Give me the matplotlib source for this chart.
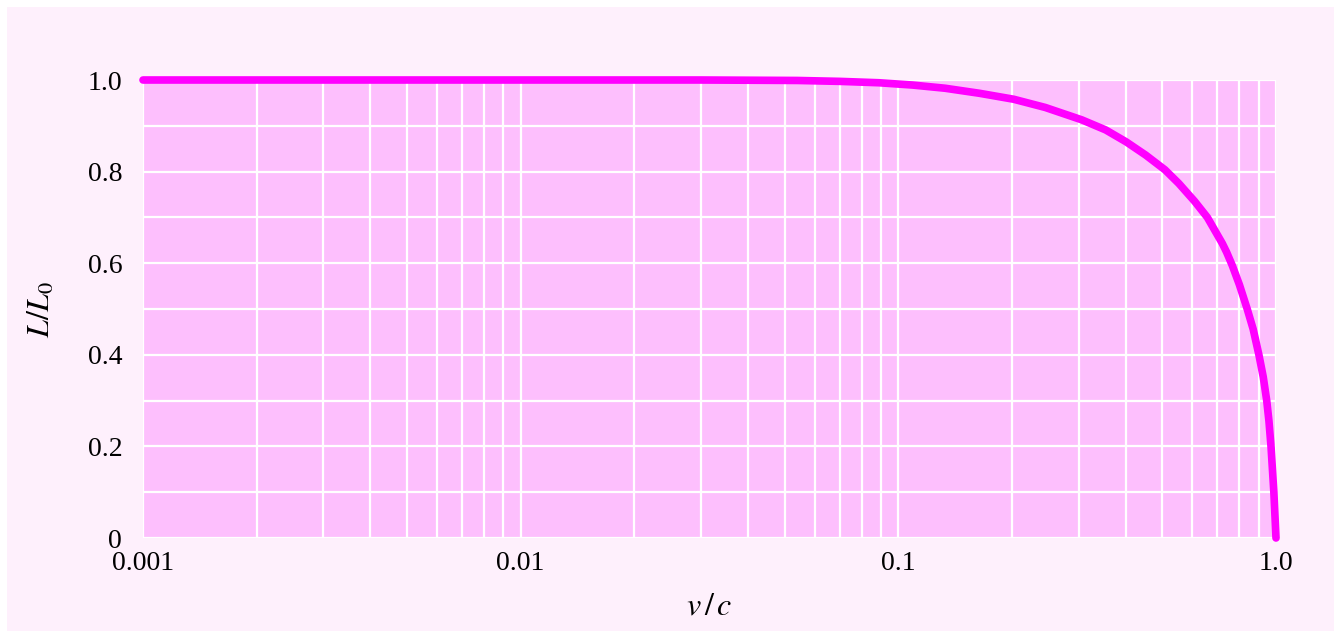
import matplotlib.pyplot as plt
from matplotlib.patches import Rectangle
from matplotlib.ticker import FixedLocator, NullFormatter

# v/c values read along the curve, and L/L0 read at each of them
speed = [0.001, 0.01, 0.03, 0.054, 0.07, 0.0888, 0.109, 0.133, 0.164, 0.202,
         0.245, 0.306, 0.354, 0.401, 0.452, 0.508, 0.553, 0.609, 0.658, 0.721,
         0.74, 0.766, 0.80, 0.839, 0.87, 0.901, 0.925, 0.945, 0.958, 0.970,
         0.987, 1.0]
length = [1.0, 1.0, 1.0, 0.999, 0.997, 0.994, 0.989, 0.982, 0.971, 0.958,
          0.940, 0.913, 0.891, 0.865, 0.836, 0.804, 0.774, 0.735, 0.7, 0.643,
          0.624, 0.595, 0.553, 0.5, 0.456, 0.4, 0.352, 0.3, 0.255, 0.2,
          0.1, 0.0]

x_ticks = [0.001, 0.01, 0.1, 1.0]
x_tick_labels = ['0.001', '0.01', '0.1', '1.0']
y_ticks = [0, 0.2, 0.4, 0.6, 0.8, 1.0]
y_tick_labels = ['0', '0.2', '0.4', '0.6', '0.8', '1.0']

plt.rcParams['font.family'] = ['Liberation Serif', 'DejaVu Serif']
plt.rcParams['mathtext.fontset'] = 'stix'

fig = plt.figure(figsize=(13.35, 6.31), dpi=100, facecolor='white')
fig.patches.append(Rectangle((7 / 1335, 0), 1 - 8 / 1335, 1 - 7 / 631,
                             transform=fig.transFigure, facecolor='#fef0fc',
                             edgecolor='none', zorder=-1))

ax = fig.add_axes([143 / 1335, 1 - 538 / 631, (1276 - 143) / 1335, (538 - 80) / 631])
ax.set_facecolor('#fdbffd')

ax.set_xscale('log')
ax.set_xlim(0.001, 1.0)
ax.set_ylim(0, 1.0)

ax.xaxis.set_major_locator(FixedLocator(x_ticks))
ax.set_xticklabels(x_tick_labels)
minor_x = [m * d for d in (0.001, 0.01, 0.1) for m in range(2, 10)]
ax.xaxis.set_minor_locator(FixedLocator(minor_x))
ax.xaxis.set_minor_formatter(NullFormatter())
ax.set_yticks(y_ticks)
ax.set_yticklabels(y_tick_labels)
ax.yaxis.set_minor_locator(FixedLocator([0.1, 0.3, 0.5, 0.7, 0.9]))

ax.grid(True, which='both', color='white', linewidth=1.6)
ax.set_axisbelow(True)
for s in ax.spines.values():
    s.set_visible(False)
ax.tick_params(which='both', length=0, labelsize=20, colors='black')
ax.tick_params(axis='x', pad=9)
ax.tick_params(axis='y', pad=15)

ax.plot(speed, length, color='#ff00ff', linewidth=5.5,
        solid_capstyle='round', solid_joinstyle='round', clip_on=False, zorder=5)

ax.set_xlabel('$v\\,/\\,c$', fontsize=23, labelpad=12)
ax.set_ylabel('$L/L_0$', fontsize=23, labelpad=22)

fig.savefig('out.png', dpi=100, facecolor=fig.get_facecolor())
